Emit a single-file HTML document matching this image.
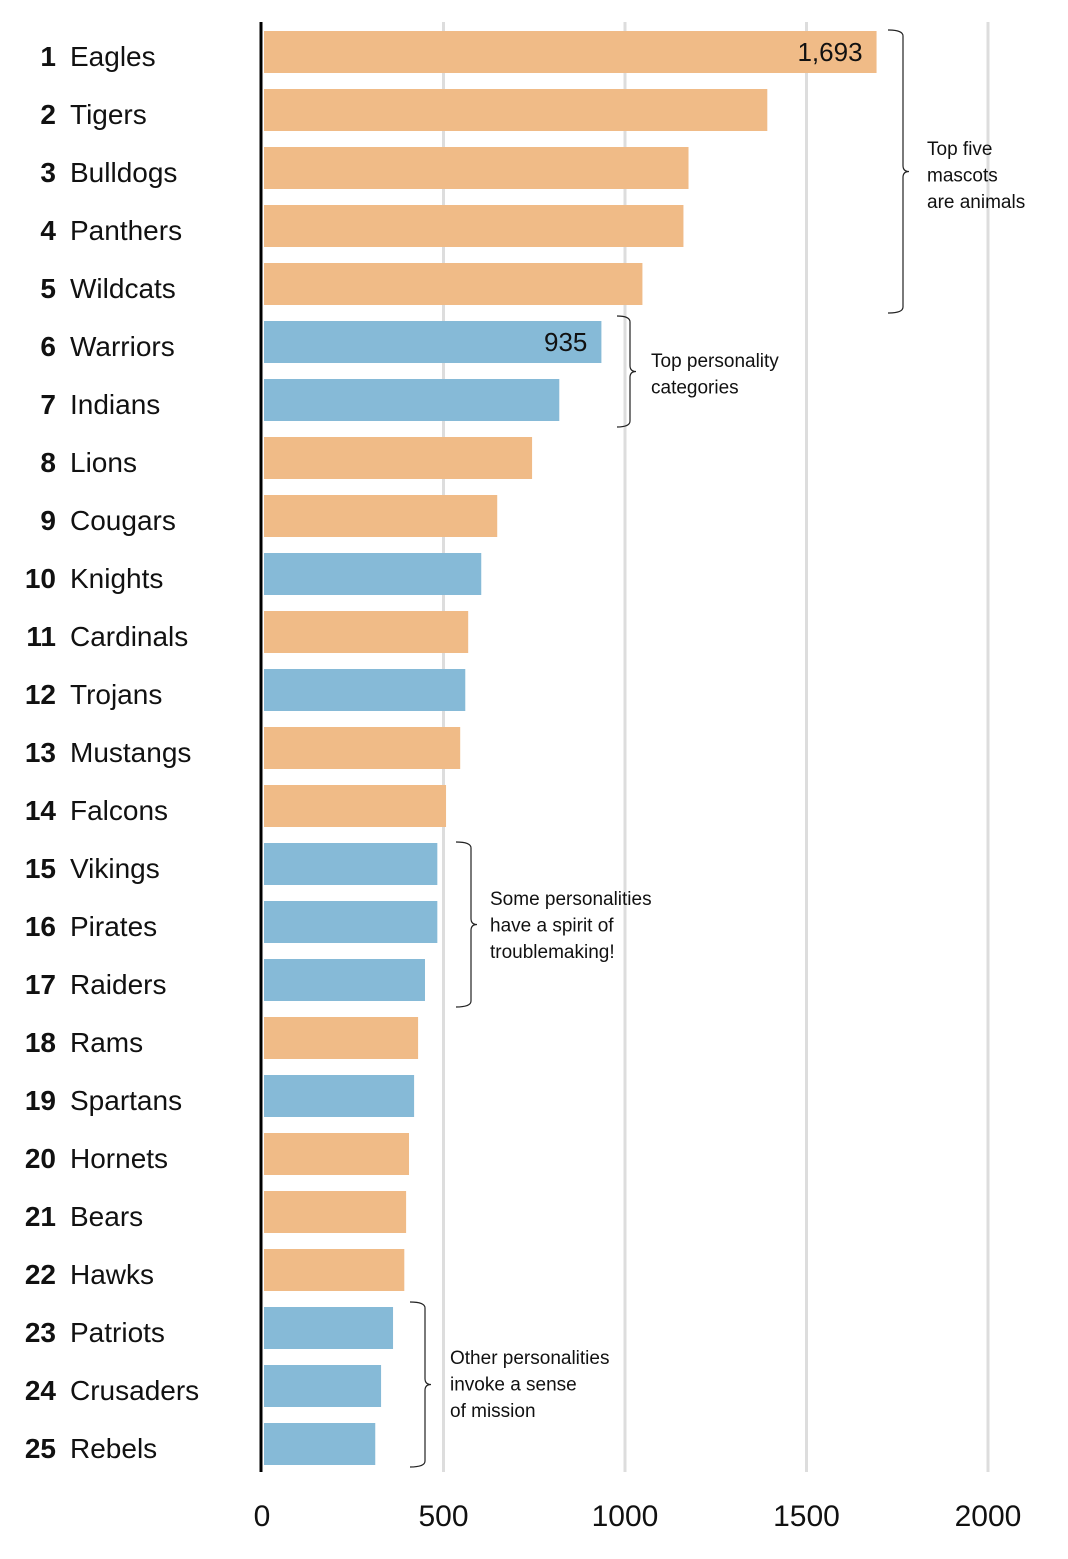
<!DOCTYPE html>
<html><head><meta charset="utf-8">
<style>
html,body{margin:0;padding:0;background:#fff;}
svg{display:block;font-family:"Liberation Sans",sans-serif;}
</style></head>
<body>
<svg id="chart" width="1068" height="1559" viewBox="0 0 1068 1559" xmlns="http://www.w3.org/2000/svg"></svg>
<script>
const names = ["Eagles","Tigers","Bulldogs","Panthers","Wildcats","Warriors","Indians","Lions","Cougars","Knights","Cardinals","Trojans","Mustangs","Falcons","Vikings","Pirates","Raiders","Rams","Spartans","Hornets","Bears","Hawks","Patriots","Crusaders","Rebels"];
const values = [1693,1392,1175,1161,1048,935,819,744,648,604,568,560,546,507,483,483,449,430,419,405,397,392,361,328,312];
const kinds = ["a","a","a","a","a","p","p","a","a","p","a","p","a","a","p","p","p","a","p","a","a","a","p","p","p"];
const ticks = [0,500,1000,1500,2000];
const valueLabels = {0:"1,693",5:"935"};

const NS="http://www.w3.org/2000/svg";
const svg=document.getElementById('chart');
const x0=262, pxPer=(988-262)/2000;
const x=v=>x0+v*pxPer;
const rowTop=i=>31+i*58;
const barH=42;
function mk(tag,attrs,parent){const e=document.createElementNS(NS,tag);for(const k in attrs)e.setAttribute(k,attrs[k]);(parent||svg).appendChild(e);return e;}

ticks.forEach((t,i)=>{
  if(t===0) return;
  const g=mk('line',{x1:x(t),x2:x(t),y1:22,y2:1472,stroke:'#dddddd','stroke-width':3});
  
  
});
names.forEach((n,i)=>{
  const b=mk('rect',{x:x0+2,y:rowTop(i),width:x(values[i])-x0-2,height:barH,fill:kinds[i]==='a'?'#f0bb87':'#86bad7'});
  
  
  const cy=rowTop(i)+barH/2+14;
  const r=mk('text',{x:56,y:cy,'text-anchor':'end','font-size':28,'font-weight':'bold',fill:'#111'});
  r.textContent=String(i+1);
  
  
  const t=mk('text',{x:70,y:cy,'font-size':28,fill:'#111'});
  t.textContent=n;
  
  
  if(valueLabels[i]){
    const v=mk('text',{x:x(values[i])-14,y:cy-5,'text-anchor':'end','font-size':26,fill:'#111'});
    v.textContent=valueLabels[i];
    
    
  }
});
const ax=mk('line',{x1:261,x2:261,y1:22,y2:1472,stroke:'#000','stroke-width':3});


ticks.forEach(t=>{
  const tl=mk('text',{x:x(t),y:1526,'text-anchor':'middle','font-size':30,fill:'#111'});
  tl.textContent=String(t);
  
  
});
const brackets=[
 {x1:888,x2:903,y1:30,y2:313,tx:927,lines:["Top five","mascots","are animals"],ly:155,name:'top-five'},
 {x1:617,x2:630,y1:316,y2:427,tx:651,lines:["Top personality","categories"],ly:367,name:'top-personality'},
 {x1:456,x2:471,y1:842,y2:1007,tx:490,lines:["Some personalities","have a spirit of","troublemaking!"],ly:905,name:'troublemaking'},
 {x1:410,x2:425,y1:1302,y2:1467,tx:450,lines:["Other personalities","invoke a sense","of mission"],ly:1364,name:'mission'}
];
brackets.forEach(b=>{
  const m=(b.y1+b.y2)/2, r=6;
  const d=`M${b.x1},${b.y1} Q${b.x2},${b.y1} ${b.x2},${b.y1+r} L${b.x2},${m-r} Q${b.x2},${m} ${b.x2+6},${m} Q${b.x2},${m} ${b.x2},${m+r} L${b.x2},${b.y2-r} Q${b.x2},${b.y2} ${b.x1},${b.y2}`;
  const p=mk('path',{d:d,fill:'none',stroke:'#222','stroke-width':1.2});
  
  
  b.lines.forEach((l,j)=>{
    const t=mk('text',{x:b.tx,y:b.ly+j*26.5,'font-size':19,fill:'#111'});
    t.textContent=l;
    
    
  });
});
</script>
</body></html>
